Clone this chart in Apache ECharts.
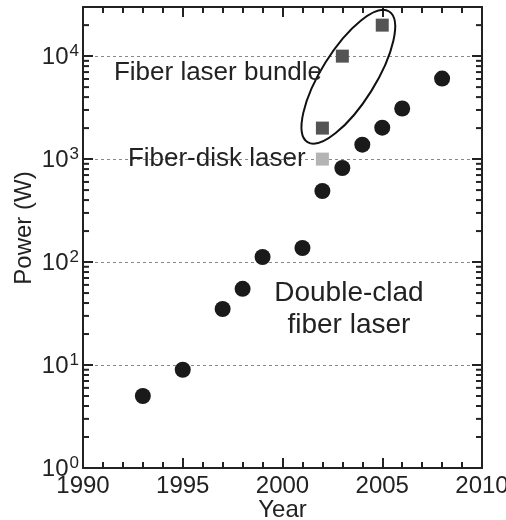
<!DOCTYPE html>
<html><head><meta charset="utf-8">
<script src="https://cdn.jsdelivr.net/npm/echarts@6/dist/echarts.min.js"></script>
<style>html,body{margin:0;padding:0;background:#fff}#c{width:506px;height:520px}</style>
</head><body><div id="c"></div>
<script>
// ---- data ----
const doubleCladYears = [1993, 1995, 1997, 1998, 1999, 2001, 2002, 2003, 2004, 2005, 2006, 2008];
const doubleCladPower = [5, 9, 35, 55, 112, 137, 490, 820, 1380, 2020, 3100, 6050];
const bundleYears = [2002, 2003, 2005];
const bundlePower = [2000, 10000, 20000];
const diskYears = [2002];
const diskPower = [1000];
const xTickLabels = ['1990', '1995', '2000', '2005', '2010'];
const yTickExponents = ['0', '1', '2', '3', '4'];

// annotations (anchors in data units)
const ellipseCenter = [2003.3, 6300];
const annotationTexts = ['Fiber laser bundle', 'Fiber-disk laser', 'Double-clad\nfiber laser'];
const annotationAnchors = [[1991.55, 6900], [1992.25, 1010], [2003.33, 35]];

// minor tick values of the log axis (2..9 x 10^k)
const minorTickValues = [];
for (let k = 0; k <= 4; k++) for (let m = 2; m <= 9; m++) { const v = m * Math.pow(10, k); if (v < 30000) minorTickValues.push(v); }

const FONT = '"Liberation Sans", Arial, Helvetica, sans-serif';
const INK = '#222';

const chart = echarts.init(document.getElementById('c'), null, {renderer: 'canvas'});

const xCommon = {
  type: 'value', min: 1990, max: 2010, interval: 5,
  axisLine: {show: true, onZero: false, lineStyle: {color: INK, width: 2}},
  axisTick: {show: true, inside: true, length: 10, lineStyle: {color: INK, width: 2}},
  minorTick: {show: true, splitNumber: 5, length: 6, lineStyle: {color: INK, width: 2}},
  splitLine: {show: false}
};
const yCommon = {
  type: 'log', logBase: 10, min: 1, max: 30000,
  axisLine: {show: true, onZero: false, lineStyle: {color: INK, width: 2}},
  axisTick: {show: true, inside: true, length: 10, lineStyle: {color: INK, width: 2}}
};

const option = {
  animation: false,
  backgroundColor: '#fff',
  grid: {left: 83, right: 24, top: 7, bottom: 52, containLabel: false, outerBoundsMode: 'none'},
  xAxis: [
    Object.assign({}, xCommon, {
      position: 'bottom',
      axisLabel: {fontSize: 24, color: INK, fontFamily: FONT, margin: 6,
        formatter: v => { const s = String(Math.round(v)); return xTickLabels.indexOf(s) >= 0 ? s : ''; }},
      name: 'Year', nameLocation: 'middle', nameGap: 30, nameMoveOverlap: false,
      nameTextStyle: {fontSize: 24, color: INK, fontFamily: FONT, verticalAlign: 'top'}
    }),
    Object.assign({}, xCommon, {position: 'top', axisLabel: {show: false}})
  ],
  yAxis: [
    Object.assign({}, yCommon, {
      position: 'left',
      splitLine: {show: true, lineStyle: {color: '#888', width: 1, type: [3, 3]}},
      axisLabel: {
        margin: 4, color: INK, fontFamily: FONT, showMaxLabel: false,
        formatter: v => {
          const e = Math.log10(v);
          const r = Math.round(e);
          if (Math.abs(e - r) > 1e-6) return '';
          const s = String(r);
          if (yTickExponents.indexOf(s) < 0) return '';
          return '{b|10}{s|' + s + '}';
        },
        rich: {
          b: {fontSize: 24, fontFamily: FONT, color: INK, lineHeight: 26, verticalAlign: 'bottom'},
          s: {fontSize: 17, fontFamily: FONT, color: INK, lineHeight: 26, verticalAlign: 'top', padding: [0, 0, 14, 1]}
        }
      }
    }),
    Object.assign({}, yCommon, {position: 'right', axisLabel: {show: false}, splitLine: {show: false}})
  ],
  graphic: [{
    type: 'text', x: 24, y: 228, rotation: Math.PI / 2,
    style: {text: 'Power (W)', fontSize: 24, fontFamily: FONT, fill: INK, align: 'center', verticalAlign: 'middle'}
  }],
  series: [
    {
      type: 'custom', name: 'minorY', silent: true, z: 3,
      data: minorTickValues.map(v => [1990, v]),
      renderItem: (params, api) => {
        const v = api.value(1);
        const l = api.coord([1990, v]);
        const r = api.coord([2010, v]);
        return {type: 'group', children: [
          {type: 'line', shape: {x1: l[0], y1: l[1], x2: l[0] + 6, y2: l[1]}, style: {stroke: INK, lineWidth: 2}},
          {type: 'line', shape: {x1: r[0] - 6, y1: r[1], x2: r[0], y2: r[1]}, style: {stroke: INK, lineWidth: 2}}
        ]};
      }
    },
    {
      type: 'scatter', name: 'Double-clad fiber laser', symbol: 'circle', symbolSize: 16, z: 5,
      itemStyle: {color: '#1a1a1a', opacity: 1},
      data: doubleCladYears.map((y, i) => [y, doubleCladPower[i]])
    },
    {
      type: 'scatter', name: 'Fiber laser bundle', symbol: 'rect', symbolSize: 13, z: 5,
      itemStyle: {color: '#545454', opacity: 1},
      data: bundleYears.map((y, i) => [y, bundlePower[i]])
    },
    {
      type: 'scatter', name: 'Fiber-disk laser', symbol: 'rect', symbolSize: 13, z: 5,
      itemStyle: {color: '#b4b4b4', opacity: 1},
      data: diskYears.map((y, i) => [y, diskPower[i]])
    },
    {
      type: 'custom', name: 'ellipse', silent: true, z: 6,
      data: [ellipseCenter],
      renderItem: (params, api) => {
        const c = api.coord([api.value(0), api.value(1)]);
        return {type: 'ellipse', x: c[0], y: c[1], rotation: 58 * Math.PI / 180,
          shape: {cx: 0, cy: 0, rx: 77, ry: 27},
          style: {fill: 'none', stroke: '#111', lineWidth: 2}};
      }
    },
    {
      type: 'custom', name: 'annotations', silent: true, z: 7,
      data: annotationAnchors.map((a, i) => [a[0], a[1], i]),
      renderItem: (params, api) => {
        const c = api.coord([api.value(0), api.value(1)]);
        const i = api.value(2);
        const big = i === 2;
        return {type: 'text', x: c[0], y: c[1],
          style: {text: annotationTexts[i], fontSize: big ? 28 : 26, fontFamily: FONT, fill: INK,
            align: big ? 'center' : 'left', verticalAlign: 'middle', lineHeight: big ? 32 : 30}};
      }
    }
  ]
};
chart.setOption(option);
</script>
</body></html>
